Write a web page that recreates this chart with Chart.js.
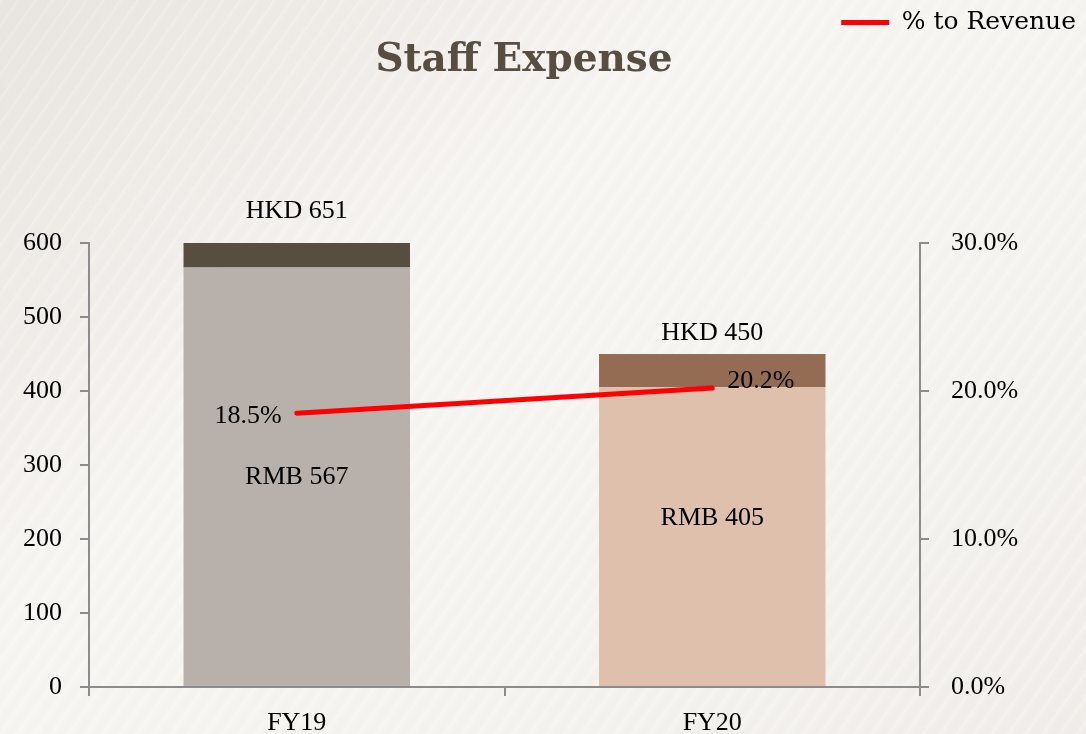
<!DOCTYPE html>
<html>
<head>
<meta charset="utf-8">
<script src="https://cdn.jsdelivr.net/npm/chart.js@4"></script>
<style>
  html, body { margin: 0; padding: 0; overflow: hidden; }
  body {
    width: 1086px; height: 734px;
    background:
      repeating-linear-gradient(125deg, rgba(255,255,255,0.25) 0px, rgba(255,255,255,0) 4px, rgba(232,228,223,0.15) 9px, rgba(255,255,255,0) 14px),
      linear-gradient(140deg, #e8e4df 0%, #efebe7 18%, #f8f6f3 38%, #f6f4f1 65%, #f1eeea 100%);
  }
  canvas { display: block; }
</style>
</head>
<body>
<canvas id="staffChart" width="1086" height="734"></canvas>
<script>
// data
const categories = ['FY19', 'FY20'];
const rmbValues = [567, 405];
const hkdExtra = [33, 45];          // top segment up to HKD equivalent
const hkdLabels = ['HKD 651', 'HKD 450'];
const rmbLabels = ['RMB 567', 'RMB 405'];
const pctRevenue = [18.5, 20.2];

const AXIS = '#8c8c8c';
const SERIF = "'Liberation Serif', 'Times New Roman', serif";

// push the chart area down below the legend / title
const legendGap = {
  id: 'legendGap',
  afterInit(chart) {
    const fit = chart.legend.fit;
    chart.legend.fit = function () {
      fit.call(this);
      this.height = 243;
    };
  }
};

const titleAndLabels = {
  id: 'titleAndLabels',
  afterDatasetsDraw(chart) {
    const ctx = chart.ctx;
    ctx.save();

    // title
    ctx.font = "bold 39px 'DejaVu Serif', serif";
    ctx.fillStyle = '#574d41';
    ctx.textAlign = 'center';
    ctx.textBaseline = 'middle';
    ctx.fillText('Staff Expense', 524, 61);

    ctx.font = '26px ' + SERIF;
    ctx.fillStyle = '#000';

    const bottom = chart.getDatasetMeta(0).data;
    const top = chart.getDatasetMeta(1).data;
    const line = chart.getDatasetMeta(2).data;
    const hkdOff = [-32, -21];
    const rmbOff = [0, -18];

    top.forEach((bar, i) => {
      ctx.textAlign = 'center';
      ctx.fillText(hkdLabels[i], bar.x, bar.y + hkdOff[i]);
      const b = bottom[i];
      ctx.fillText(rmbLabels[i], b.x, (b.y + b.base) / 2 + rmbOff[i]);
    });

    // % labels
    ctx.textAlign = 'right';
    ctx.fillText(pctRevenue[0].toFixed(1) + '%', line[0].x - 15, line[0].y + 3);
    ctx.textAlign = 'left';
    ctx.fillText(pctRevenue[1].toFixed(1) + '%', line[1].x + 15, line[1].y - 7);

    ctx.restore();
  }
};

const gridOpts = {
  display: true,
  drawOnChartArea: false,
  drawTicks: true,
  tickLength: 9,
  color: AXIS,
  lineWidth: 2
};

new Chart(document.getElementById('staffChart'), {
  data: {
    labels: categories,
    datasets: [
      {
        type: 'bar',
        label: 'RMB',
        data: rmbValues,
        backgroundColor: ['#b8b0aa', '#dfc0ac'],
        categoryPercentage: 1,
        barPercentage: 0.545,
        order: 1
      },
      {
        type: 'bar',
        label: 'HKD',
        data: hkdExtra,
        backgroundColor: ['#574d41', '#946c53'],
        categoryPercentage: 1,
        barPercentage: 0.545,
        order: 1
      },
      {
        type: 'line',
        label: '% to Revenue',
        data: pctRevenue,
        yAxisID: 'y1',
        borderColor: '#ff0000',
        backgroundColor: '#ff0000',
        borderWidth: 5,
        borderCapStyle: 'round',
        pointRadius: 0,
        tension: 0,
        order: 0
      }
    ]
  },
  options: {
    responsive: false,
    devicePixelRatio: 1,
    animation: false,
    layout: { padding: 0 },
    plugins: {
      tooltip: { enabled: false },
      legend: {
        display: true,
        position: 'top',
        align: 'end',
        labels: {
          color: '#000',
          boxWidth: 48,
          boxHeight: 5,
          padding: 10,
          font: { family: "'DejaVu Serif', serif", size: 25 },
          filter: item => item.datasetIndex === 2,
          generateLabels: chart =>
            Chart.defaults.plugins.legend.labels.generateLabels(chart)
              .map(l => Object.assign(l, { lineWidth: 0, fillStyle: '#ff0000' }))
        }
      }
    },
    scales: {
      x: {
        stacked: true,
        grid: Object.assign({}, gridOpts, { offset: true }),
        border: { color: AXIS, width: 2 },
        ticks: { color: '#000', padding: 12, font: { family: SERIF, size: 26 } },
        afterFit: s => { s.height = 47; }
      },
      y: {
        stacked: true,
        min: 0,
        max: 600,
        grid: gridOpts,
        border: { color: AXIS, width: 2 },
        ticks: { stepSize: 100, color: '#000', padding: 18, font: { family: SERIF, size: 26 } },
        afterFit: s => { s.width = 89; }
      },
      y1: {
        position: 'right',
        min: 0,
        max: 30,
        grid: gridOpts,
        border: { color: AXIS, width: 2 },
        ticks: {
          stepSize: 10,
          color: '#000',
          padding: 22,
          font: { family: SERIF, size: 26 },
          callback: v => v.toFixed(1) + '%'
        },
        afterFit: s => { s.width = 166; }
      }
    }
  },
  plugins: [legendGap, titleAndLabels]
});
</script>
</body>
</html>
